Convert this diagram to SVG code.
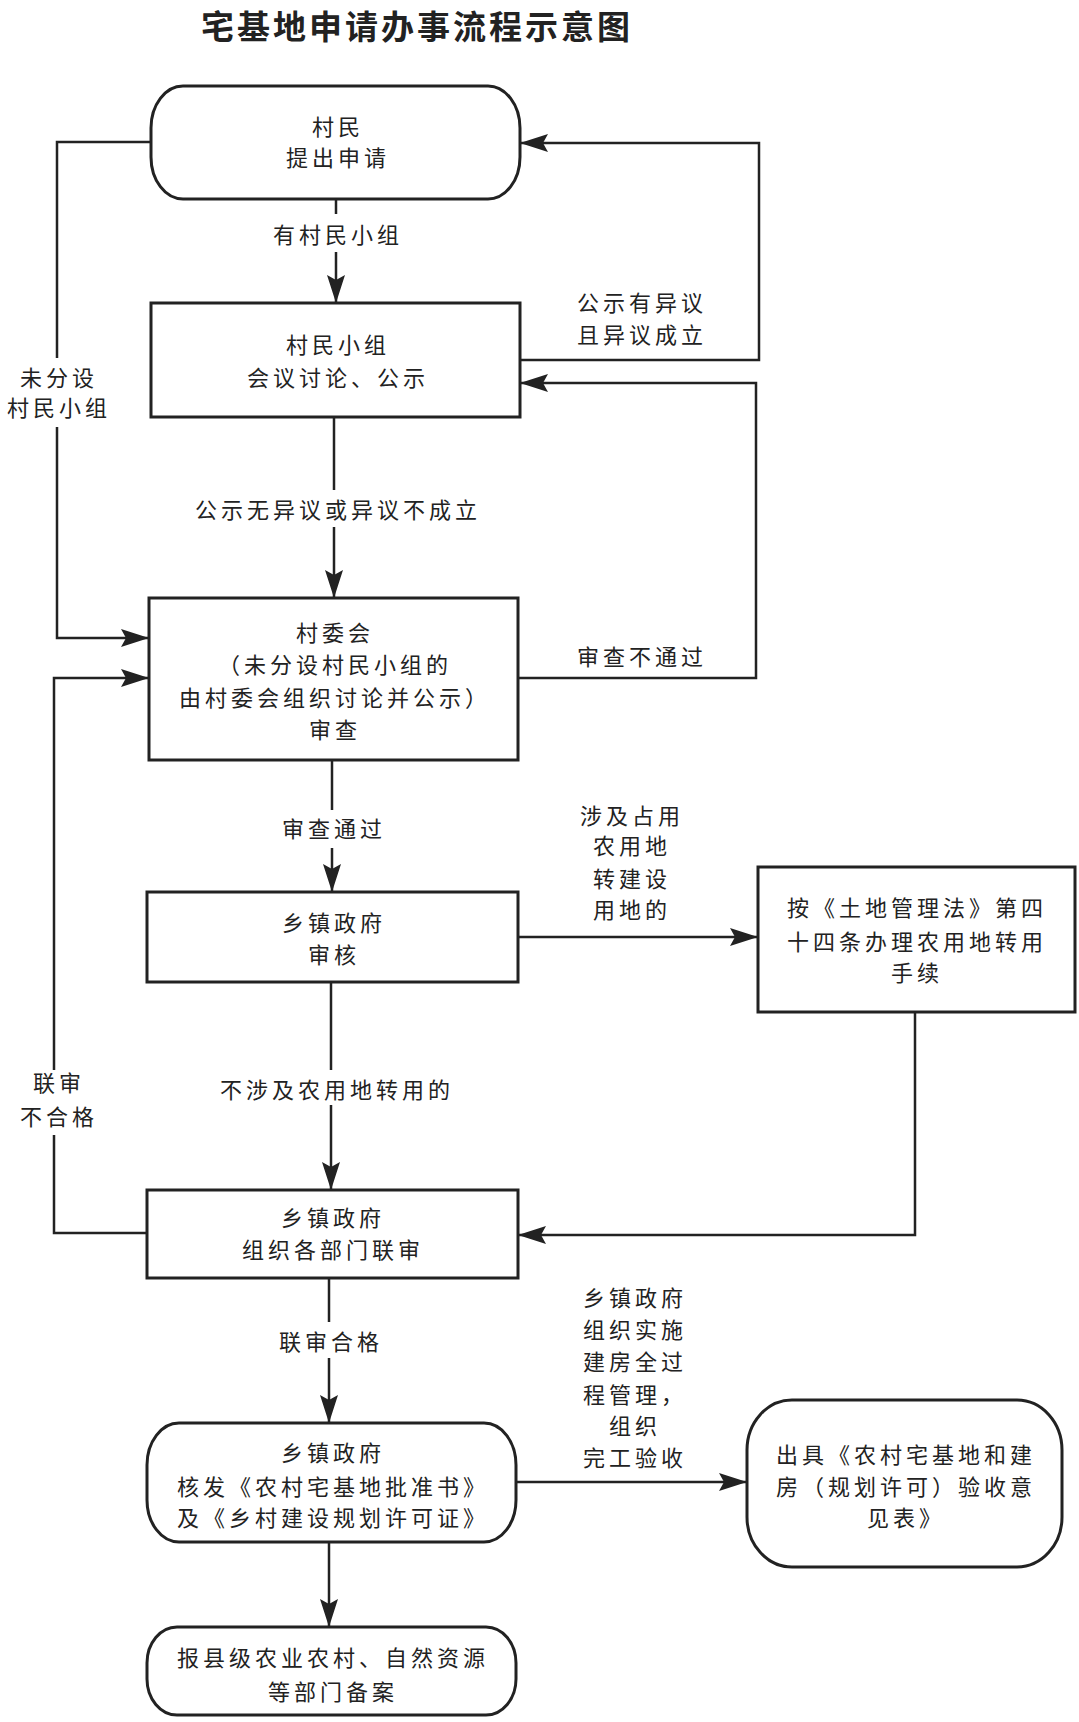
<svg xmlns="http://www.w3.org/2000/svg" width="1079" height="1722" viewBox="0 0 1079 1722">
<style>
text{font-family:"Noto Sans CJK SC","Noto Sans",sans-serif;fill:#222;text-anchor:middle}
.t{font-size:22px;letter-spacing:4px}
.title{font-size:33px;font-weight:bold;letter-spacing:3px}
.box{fill:#fff;stroke:#222;stroke-width:3}
.c{fill:none;stroke:#222;stroke-width:2.5}
</style>
<defs>
<marker id="ah" markerUnits="userSpaceOnUse" markerWidth="28" markerHeight="18" refX="28" refY="9" orient="auto">
<path d="M0,0 L28,9 L0,18 L5,9 Z" fill="#222"/>
</marker>
</defs>
<rect width="1079" height="1722" fill="#fff"/>
<text class="title" x="417" y="39">宅基地申请办事流程示意图</text>

<g id="connectors">
<path class="c" d="M336,199 V214"/>
<path class="c" d="M336,252 V303" marker-end="url(#ah)"/>
<path class="c" d="M334,417 V490"/>
<path class="c" d="M334,527 V598" marker-end="url(#ah)"/>
<path class="c" d="M332,760 V810"/>
<path class="c" d="M332,848 V892" marker-end="url(#ah)"/>
<path class="c" d="M331,982 V1070"/>
<path class="c" d="M331,1105 V1190" marker-end="url(#ah)"/>
<path class="c" d="M329,1278 V1322"/>
<path class="c" d="M329,1358 V1423" marker-end="url(#ah)"/>
<path class="c" d="M329,1542 V1627" marker-end="url(#ah)"/>
<path class="c" d="M151,142 H57 V358"/>
<path class="c" d="M57,427 V638 H149" marker-end="url(#ah)"/>
<path class="c" d="M147,1233 H54 V1135"/>
<path class="c" d="M54,1070 V678 H149" marker-end="url(#ah)"/>
<path class="c" d="M520,360 H759 V143 H520" marker-end="url(#ah)"/>
<path class="c" d="M518,678 H756 V383 H520" marker-end="url(#ah)"/>
<path class="c" d="M518,937 H758" marker-end="url(#ah)"/>
<path class="c" d="M915,1012 V1235 H518" marker-end="url(#ah)"/>
<path class="c" d="M516,1482 H747" marker-end="url(#ah)"/>
<g id="labels">
<text class="t" x="338" y="243">有村民小组</text>
<text class="t" x="338" y="518">公示无异议或异议不成立</text>
<text class="t" x="334" y="837">审查通过</text>
<text class="t" x="337" y="1098">不涉及农用地转用的</text>
<text class="t" x="331" y="1350">联审合格</text>
<text class="t" x="59" y="386">未分设</text>
<text class="t" x="59" y="416">村民小组</text>
<text class="t" x="59" y="1091">联审</text>
<text class="t" x="59" y="1125">不合格</text>
<text class="t" x="642" y="311">公示有异议</text>
<text class="t" x="642" y="343">且异议成立</text>
<text class="t" x="642" y="665">审查不通过</text>
<text class="t" x="632" y="824">涉及占用</text>
<text class="t" x="632" y="854">农用地</text>
<text class="t" x="632" y="887">转建设</text>
<text class="t" x="632" y="918">用地的</text>
<text class="t" x="635" y="1306">乡镇政府</text>
<text class="t" x="635" y="1338">组织实施</text>
<text class="t" x="635" y="1370">建房全过</text>
<text class="t" x="635" y="1403">程管理，</text>
<text class="t" x="635" y="1434">组织</text>
<text class="t" x="635" y="1466">完工验收</text>
</g>
</g>

<g id="n1">
<rect class="box" x="151" y="86" width="369" height="113" rx="32" ry="42"/>
<text class="t" x="338" y="135">村民</text>
<text class="t" x="338" y="166">提出申请</text>
</g>
<g id="n2">
<rect class="box" x="151" y="303" width="369" height="114"/>
<text class="t" x="338" y="353">村民小组</text>
<text class="t" x="338" y="386">会议讨论、公示</text>
</g>
<g id="n3">
<rect class="box" x="149" y="598" width="369" height="162"/>
<text class="t" x="335" y="641">村委会</text>
<text class="t" x="335" y="673">（未分设村民小组的</text>
<text class="t" x="335" y="706">由村委会组织讨论并公示）</text>
<text class="t" x="335" y="738">审查</text>
</g>
<g id="n4">
<rect class="box" x="147" y="892" width="371" height="90"/>
<text class="t" x="334" y="931">乡镇政府</text>
<text class="t" x="334" y="963">审核</text>
</g>
<g id="n6">
<rect class="box" x="758" y="867" width="317" height="145"/>
<text class="t" x="917" y="916">按《土地管理法》第四</text>
<text class="t" x="917" y="950">十四条办理农用地转用</text>
<text class="t" x="917" y="981">手续</text>
</g>
<g id="n5">
<rect class="box" x="147" y="1190" width="371" height="88"/>
<text class="t" x="333" y="1226">乡镇政府</text>
<text class="t" x="333" y="1258">组织各部门联审</text>
</g>
<g id="n7">
<rect class="box" x="147" y="1423" width="369" height="119" rx="32" ry="42"/>
<text class="t" x="333" y="1461">乡镇政府</text>
<text class="t" x="333" y="1495">核发《农村宅基地批准书》</text>
<text class="t" x="333" y="1526">及《乡村建设规划许可证》</text>
</g>
<g id="n8">
<rect class="box" x="747" y="1400" width="315" height="167" rx="45" ry="50"/>
<text class="t" x="906" y="1463">出具《农村宅基地和建</text>
<text class="t" x="906" y="1495">房（规划许可）验收意</text>
<text class="t" x="906" y="1526">见表》</text>
</g>
<g id="n9">
<rect class="box" x="147" y="1627" width="369" height="88" rx="30" ry="36"/>
<text class="t" x="333" y="1666">报县级农业农村、自然资源</text>
<text class="t" x="333" y="1700">等部门备案</text>
</g>
</svg>
